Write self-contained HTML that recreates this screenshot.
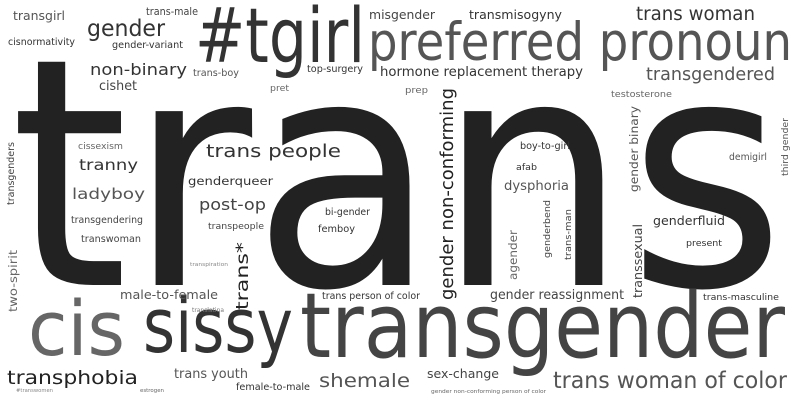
<!DOCTYPE html>
<html><head><meta charset="utf-8"><style>
html,body{margin:0;padding:0;background:#fff}
svg{display:block}
text{font-family:"DejaVu Sans","Liberation Sans",sans-serif}
</style></head><body>
<svg id="cloud" width="800" height="400" viewBox="0 0 800 400" xmlns="http://www.w3.org/2000/svg">
<rect width="800" height="400" fill="#fff"/>
</svg>
<script>
// word, x, baselineY, fontSize, width, color, rotated
const words = ["trans","transgender","cis","sissy","#tgirl","preferred pronoun","trans woman","transmisogyny","misgender","trans-male","transgirl","cisnormativity","gender","gender-variant","non-binary","trans-boy","top-surgery","hormone replacement therapy","transgendered","cishet","pret","prep","testosterone","gender non-conforming","cissexism","trans people","tranny","genderqueer","ladyboy","post-op","transgendering","transpeople","transwoman","trans*","transpiration","two-spirit","transgenders","male-to-female","translatina","trans person of color","bi-gender","femboy","boy-to-girl","afab","dysphoria","gender binary","demigirl","third gender","agender","genderbend","trans-man","transsexual","genderfluid","present","gender reassignment","trans-masculine","transphobia","trans youth","shemale","sex-change","trans woman of color","female-to-male","#transwomen","estrogen","gender non-conforming person of color"];
const xs = [10,300,28,143,195,368,636,469,369,146,13,8,87,112,90,193,307,380,646,99,270,405,611,453,78,206,79,188,72,199,71,208,81,248,190,17,14,120,192,322,325,318,520,516,504,638,729,788,517,550,571,642,653,686,490,703,7,174,319,427,553,236,16,140,431];
const ys = [285,357,355,352,62,60,20,19,19,15,20,45,36,48,75,76,72,76,80,90,91,93,97,300,149,157,170,185,199,210,223,229,242,310,266,312,205,299,312,299,215,232,149,170,190,192,160,176,280,258,260,298,225,246,299,300,384,378,387,378,388,390,392,392,393];
const sizes = [318,90,76,76,76,53,19,12.5,12.5,10.5,12.5,9.5,23,9.5,16,9.5,9.5,13.5,18,13.5,8.5,8.5,8.5,18,9,18,15,11.5,15,16,9.5,9,9.5,17,5.5,11.5,9.5,12.5,6,9.5,9.5,9.5,9.5,8.5,13.5,11.5,9.5,9,11.5,8.5,8.5,12.5,12.5,9,13.5,9,19,13.5,19,12.5,23,9.5,5.5,5.5,5.5];
const widths = [775,485,97,150,170,424,119,93,66,52,52,67,78,71,97,46,56,203,129,38,19,23,61,212,45,135,59,85,73,67,72,56,60,68,38,62,63,98,32,98,45,37,50,21,65,86,38,58,50,58,51,74,72,36,134,76,131,74,91,72,234,74,37,24,115];
const colors = ["#222","#444","#666","#333","#333","#555","#333","#333","#444","#444","#555","#333","#333","#333","#333","#555","#333","#333","#555","#444","#666","#666","#666","#222","#666","#333","#333","#333","#555","#444","#444","#444","#444","#222","#888","#666","#444","#555","#777","#333","#333","#333","#333","#333","#555","#555","#555","#555","#666","#444","#444","#444","#333","#333","#444","#333","#222","#555","#555","#444","#555","#333","#888","#666","#666"];
const rotated = [0,0,0,0,0,0,0,0,0,0,0,0,0,0,0,0,0,0,0,0,0,0,0,1,0,0,0,0,0,0,0,0,0,1,0,1,1,0,0,0,0,0,0,0,0,1,0,1,1,1,1,1,0,0,0,0,0,0,0,0,0,0,0,0,0];

const svg = document.getElementById('cloud');
const NS = 'http://www.w3.org/2000/svg';
for (let i = 0; i < words.length; i++) {
  const t = document.createElementNS(NS, 'text');
  t.textContent = words[i];
  t.setAttribute('font-size', sizes[i]);
  t.setAttribute('fill', colors[i]);
  t.setAttribute('textLength', widths[i]);
  t.setAttribute('lengthAdjust', 'spacingAndGlyphs');
  if (rotated[i]) {
    t.setAttribute('x', 0);
    t.setAttribute('y', 0);
    t.setAttribute('transform', 'translate(' + xs[i] + ',' + ys[i] + ') rotate(-90)');
  } else {
    t.setAttribute('x', xs[i]);
    t.setAttribute('y', ys[i]);
  }
  const slug = words[i].replace(/[^a-zA-Z0-9]+/g, '-').replace(/^-|-$/g, '').toLowerCase();
  
  
  svg.appendChild(t);
}
</script>
</body></html>
